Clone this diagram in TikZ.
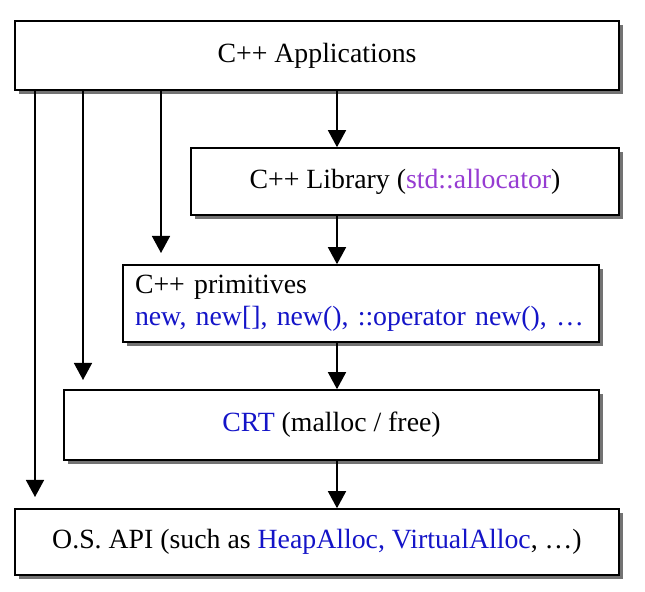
\documentclass[tikz,border=0pt]{standalone}
\usepackage{fontspec}
\setmainfont{Liberation Serif}
\usetikzlibrary{shapes, arrows.meta, positioning, calc, shadows}

\definecolor{apiblue}{RGB}{20,20,200}
\definecolor{stdpurple}{RGB}{150,60,210}

\begin{document}
\begin{tikzpicture}[
        x=0.5pt, y=-0.5pt,
        layer/.style={rectangle, draw=black, line width=0.8pt, fill=white, inner sep=0pt, align=center,
            font=\fontsize{13.9}{16}\selectfont,
            drop shadow={shadow xshift=1.8pt, shadow yshift=-1.8pt, fill=black!55, opacity=1}},
        arrow/.style={-{Triangle[width=9pt, length=8.5pt]}, line width=0.75pt, draw=black}
    ]
        \useasboundingbox (0,0) rectangle (645,592);

        \node[layer, minimum width=302pt, minimum height=34.5pt] (app) at (317,55.5) {C++ Applications};
        \node[layer, minimum width=214pt, minimum height=33.5pt] (lib) at (405,181.5) {C++ Library (\textcolor{stdpurple}{std::allocator})};
        \node[layer, minimum width=238pt, minimum height=38.5pt, text width=226pt, align=left] (prim) at (361,303.5) {C++ primitives\\\textcolor{apiblue}{new, new[], new(), ::operator new(), …}};
        \node[layer, minimum width=267.5pt, minimum height=35pt] (crt) at (331.5,425) {\textcolor{apiblue}{CRT} (malloc / free)};
        \node[layer, minimum width=302pt, minimum height=33pt] (osapi) at (317,542) {O.S. API (such as \textcolor{apiblue}{HeapAlloc, VirtualAlloc}, …)};

        \coordinate (spine) at (337,0);
        \coordinate (toos) at (35,497);
        \coordinate (tocrt) at (83,380);
        \coordinate (toprim) at (161,253);

        \draw[arrow] (app.south -| spine) -- (lib.north -| spine);
        \draw[arrow] (lib.south -| spine) -- (prim.north -| spine);
        \draw[arrow] (prim.south -| spine) -- (crt.north -| spine);
        \draw[arrow] (crt.south -| spine) -- (osapi.north -| spine);
        \draw[arrow] (app.south -| toos) -- (toos);
        \draw[arrow] (app.south -| tocrt) -- (tocrt);
        \draw[arrow] (app.south -| toprim) -- (toprim);
    \end{tikzpicture}
\end{document}
